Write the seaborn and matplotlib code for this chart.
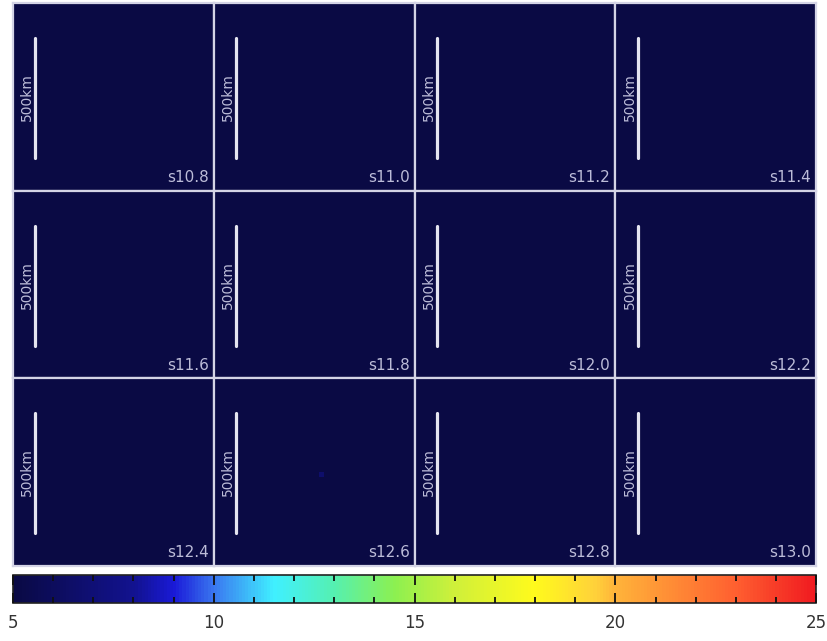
import numpy as np
import pandas as pd
import seaborn as sns
import matplotlib.pyplot as plt
from matplotlib.colors import LinearSegmentedColormap
from matplotlib.ticker import MultipleLocator

# panel labels (time steps) and the field level in each panel
panel_labels = ['s10.8', 's11.0', 's11.2', 's11.4',
                's11.6', 's11.8', 's12.0', 's12.2',
                's12.4', 's12.6', 's12.8', 's13.0']
background_level = [5.0] * 12
# one faint spot in the s12.6 panel (panel, row, col, value)
spot_panel = [9]
spot_row = [20]
spot_col = [21]
spot_value = [6.6]

grid_n = 40
vmin, vmax = 5, 25
cbar_ticks = [5, 10, 15, 20, 25]
scale_text = '500km'

# IDL-like colour table
stops = [5, 8, 9, 10, 11.5, 13, 14.5, 16, 18, 19.5, 20, 23, 25]
colors = ['#0a0a44', '#12128f', '#1a1ad8', '#3a78f0', '#40f0ff', '#55f0b0',
          '#8cf050', '#cff03a', '#fffa1c', '#ffd23a', '#ffb43a', '#ff6030', '#f01a20']
cmap = LinearSegmentedColormap.from_list(
    'idl', list(zip([(s - vmin) / (vmax - vmin) for s in stops], colors)))

sns.set_theme(style='white')
plt.rcParams['font.family'] = ['DejaVu Sans']

fig = plt.figure(figsize=(8.27, 6.41), dpi=100)
left, right, top, bottom = 0.0157, 0.987, 0.995, 0.117
w = (right - left) / 4
h = (top - bottom) / 3
line_col = '#d4d4e6'
txt_col = '#bcbcd8'

mesh = None
for i, lab in enumerate(panel_labels):
    r, c = divmod(i, 4)
    ax = fig.add_axes([left + c * w, top - (r + 1) * h, w, h])
    data = np.full((grid_n, grid_n), background_level[i])
    for p, rr, cc, v in zip(spot_panel, spot_row, spot_col, spot_value):
        if p == i:
            data[rr, cc] = v
    sns.heatmap(pd.DataFrame(data), cmap=cmap, vmin=vmin, vmax=vmax, cbar=False,
                xticklabels=False, yticklabels=False, ax=ax)
    mesh = ax.collections[0]
    for sp in ax.spines.values():
        sp.set_visible(True)
        sp.set_color(line_col)
        sp.set_linewidth(1.6)
    ax.plot([0.11, 0.11], [0.175, 0.815], color='#e4e4f0', lw=2.3,
            transform=ax.transAxes, solid_capstyle='round')
    ax.text(0.07, 0.5, scale_text, rotation=90, color=txt_col, fontsize=10,
            ha='center', va='center', transform=ax.transAxes)
    ax.text(0.975, 0.03, lab, color=txt_col, fontsize=11,
            ha='right', va='bottom', transform=ax.transAxes)

cax = fig.add_axes([left, 0.059, right - left, 0.044])
cb = fig.colorbar(mesh, cax=cax, orientation='horizontal', ticks=cbar_ticks)
cb.outline.set_edgecolor('#222222')
cb.outline.set_linewidth(1.2)
cax.set_axisbelow(False)
cax.xaxis.set_minor_locator(MultipleLocator(1))
cax.tick_params(axis='x', which='major', direction='in', length=7, width=1.3,
                color='#111111', top=True, bottom=True, labelsize=12,
                labelcolor='#333333', pad=8)
cax.tick_params(axis='x', which='minor', direction='in', length=4, width=1.3,
                color='#111111', top=True, bottom=True)

fig.savefig('out.png', dpi=100, facecolor='white')
